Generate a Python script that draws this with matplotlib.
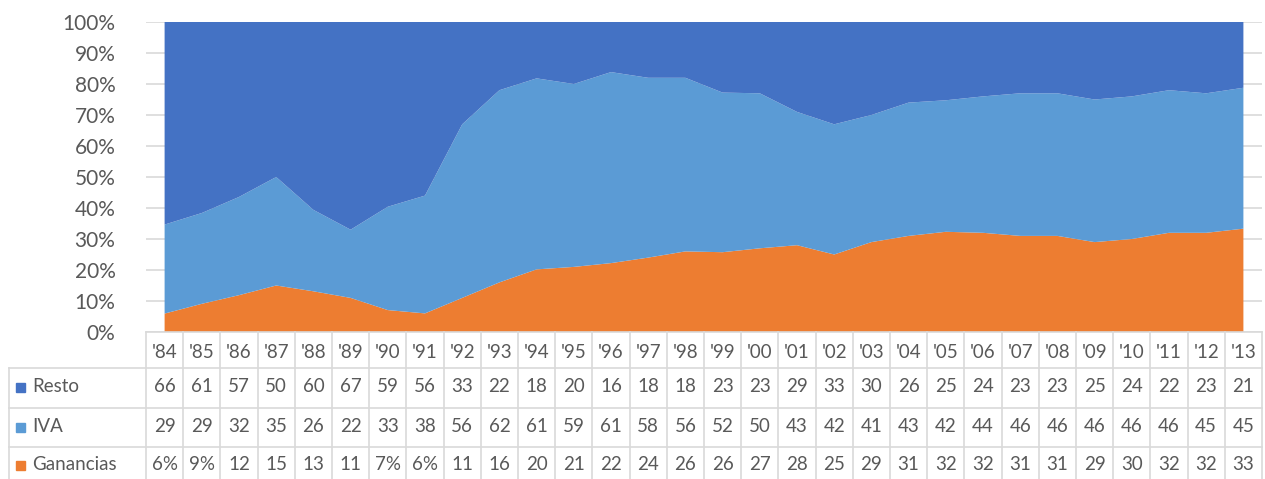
import numpy as np
import matplotlib.pyplot as plt
from matplotlib.transforms import blended_transform_factory

years = ["'84", "'85", "'86", "'87", "'88", "'89", "'90", "'91", "'92", "'93",
         "'94", "'95", "'96", "'97", "'98", "'99", "'00", "'01", "'02", "'03",
         "'04", "'05", "'06", "'07", "'08", "'09", "'10", "'11", "'12", "'13"]
resto = [66, 61, 57, 50, 60, 67, 59, 56, 33, 22, 18, 20, 16, 18, 18, 23, 23, 29, 33, 30,
         26, 25, 24, 23, 23, 25, 24, 22, 23, 21]
iva = [29, 29, 32, 35, 26, 22, 33, 38, 56, 62, 61, 59, 61, 58, 56, 52, 50, 43, 42, 41,
       43, 42, 44, 46, 46, 46, 46, 46, 45, 45]
ganancias = [6, 9, 12, 15, 13, 11, 7, 6, 11, 16, 20, 21, 22, 24, 26, 26, 27, 28, 25, 29,
             31, 32, 32, 31, 31, 29, 30, 32, 32, 33]
colors = {"Resto": "#4472C4", "IVA": "#5B9BD5", "Ganancias": "#ED7D31"}

plt.rcParams["font.family"] = ["Lato", "DejaVu Sans"]
txt = "#595959"
grid = "#d9d9d9"
fs = 13.5

W, H = 1265, 479
fig = plt.figure(figsize=(W / 100, H / 100), dpi=100)
left, right, top, bot = 146, 1262, 22, 332
ax = fig.add_axes([left / W, 1 - bot / H, (right - left) / W, (bot - top) / H])

x = np.arange(len(years))
g = np.array(ganancias, float)
v = np.array(iva, float)
r = np.array(resto, float)
tot = g + v + r
ax.stackplot(x, g / tot, v / tot, r / tot,
             colors=[colors["Ganancias"], colors["IVA"], colors["Resto"]], lw=0, zorder=2)

ax.set_xlim(-0.5, len(years) - 0.5)
ax.set_ylim(0, 1)
ticks = np.arange(0, 1.01, 0.1)
ax.set_yticks(ticks)
ax.set_yticklabels([f"{int(round(t * 100))}%" for t in ticks], color=txt, fontsize=15)
ax.tick_params(axis="y", length=0, pad=22)
ax.set_xticks([])
ax.grid(axis="y", color=grid, lw=1.2, zorder=0)
for s in ["top", "right", "left"]:
    ax.spines[s].set_visible(False)
ax.spines["bottom"].set_color(grid)
ax.spines["bottom"].set_linewidth(1.2)
ax.set_axisbelow(True)

# data table under the chart
tr = blended_transform_factory(ax.transData, fig.transFigure)
fy = lambda p: 1 - p / H
ncol = len(years)
for i in range(ncol + 1):
    fig.add_artist(plt.Line2D([i - 0.5, i - 0.5], [fy(bot), fy(479)], transform=tr,
                              color=grid, lw=1.2))
for yl in [368, 408, 447]:
    fig.add_artist(plt.Line2D([9 / W, right / W], [fy(yl), fy(yl)],
                              transform=fig.transFigure, color=grid, lw=1.2))
fig.add_artist(plt.Line2D([9 / W, 9 / W], [fy(368), fy(479)],
                          transform=fig.transFigure, color=grid, lw=1.2))

for i, yr in enumerate(years):
    fig.text(i, fy(352), yr, transform=tr, ha="center", va="center", color=txt, fontsize=fs)

rows = [("Resto", resto, 387), ("IVA", iva, 427), ("Ganancias", ganancias, 465)]
for name, vals, yc in rows:
    fig.add_artist(plt.Rectangle((16 / W, fy(yc) - 4.5 / H), 9 / W, 9 / H,
                                 transform=fig.transFigure, color=colors[name]))
    fig.text(32 / W, fy(yc), name, ha="left", va="center", color=txt, fontsize=fs)
    for i, val in enumerate(vals):
        lab = f"{val}%" if val < 10 else f"{val}"
        fig.text(i, fy(yc), lab, transform=tr, ha="center", va="center",
                 color=txt, fontsize=fs)

fig.savefig("out.png", dpi=100)
